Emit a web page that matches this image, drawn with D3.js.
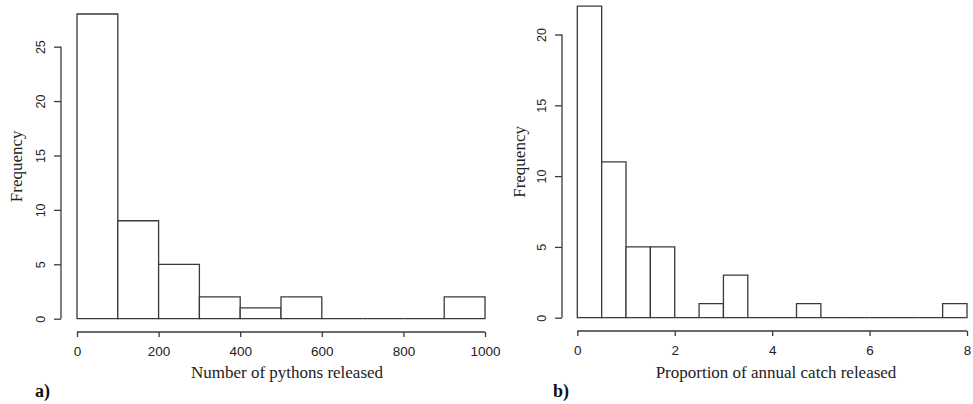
<!DOCTYPE html>
<html>
<head>
<meta charset="utf-8">
<script src="https://cdn.jsdelivr.net/npm/d3@7"></script>
<style>
  body { margin: 0; background: #fff; }
  svg { display: block; }
</style>
</head>
<body>
<svg id="chart" width="973" height="404"></svg>
<script>
// panel a) - number of pythons released
const pythonBreaks = [0, 100, 200, 300, 400, 500, 600, 700, 800, 900, 1000];
const pythonCounts = [28, 9, 5, 2, 1, 2, 0, 0, 0, 2];
const pythonXTicks = [0, 200, 400, 600, 800, 1000];
const pythonYTicks = [0, 5, 10, 15, 20, 25];

// panel b) - proportion of annual catch released
const catchBreaks = [0, 0.5, 1, 1.5, 2, 2.5, 3, 3.5, 4, 4.5, 5, 5.5, 6, 6.5, 7, 7.5, 8];
const catchCounts = [22, 11, 5, 5, 0, 1, 3, 0, 0, 1, 0, 0, 0, 0, 0, 1];
const catchXTicks = [0, 2, 4, 6, 8];
const catchYTicks = [0, 5, 10, 15, 20];

const ink = '#3a3a3a';
const svg = d3.select('#chart');

svg.append('rect').attr('width', 973).attr('height', 404).attr('fill', '#fff');

function drawHist(opts) {
  const x = d3.scaleLinear().domain([opts.breaks[0], opts.breaks[opts.breaks.length - 1]]).range(opts.xRange);
  const y = d3.scaleLinear().domain([0, opts.yMax]).range(opts.yRange);
  const g = svg.append('g');

  // bars as closed paths so empty bins still leave a line on the baseline
  const bins = opts.counts.map((c, i) => ({x0: opts.breaks[i], x1: opts.breaks[i + 1], n: c}));
  g.selectAll('path.bar').data(bins).enter().append('path')
    .attr('class', 'bar')
    .attr('d', d => `M${x(d.x0)},${y(0)}V${y(d.n)}H${x(d.x1)}V${y(0)}Z`)
    .attr('fill', '#fff')
    .attr('stroke', ink)
    .attr('stroke-width', 1.3);

  // x axis, R style: line from first to last tick
  const xAxis = g.append('g')
    .attr('transform', `translate(0,${opts.xAxisY})`)
    .call(d3.axisBottom(x).tickValues(opts.xTicks).tickFormat(d3.format('d'))
      .tickSize(5).tickSizeOuter(0).tickPadding(9));
  xAxis.select('.domain').remove();
  xAxis.append('line')
    .attr('x1', x(opts.xTicks[0])).attr('x2', x(opts.xTicks[opts.xTicks.length - 1]))
    .attr('stroke', ink).attr('stroke-width', 1.3);
  xAxis.selectAll('.tick line').attr('stroke', ink).attr('stroke-width', 1.3);
  xAxis.selectAll('.tick text')
    .attr('fill', '#222')
    .style('font-family', '"Liberation Sans", Arial, sans-serif')
    .style('font-size', '13.5px');

  // y axis with labels parallel to the axis
  const yAxis = g.append('g')
    .attr('transform', `translate(${opts.yAxisX},0)`)
    .call(d3.axisLeft(y).tickValues(opts.yTicks).tickSize(7).tickSizeOuter(0));
  yAxis.select('.domain').remove();
  yAxis.append('line')
    .attr('y1', y(opts.yTicks[0])).attr('y2', y(opts.yTicks[opts.yTicks.length - 1]))
    .attr('stroke', ink).attr('stroke-width', 1.3);
  yAxis.selectAll('.tick line').attr('stroke', ink).attr('stroke-width', 1.3);
  yAxis.selectAll('.tick text')
    .attr('x', 0).attr('y', -16).attr('dy', null)
    .attr('transform', 'rotate(-90)')
    .attr('text-anchor', 'middle')
    .attr('fill', '#222')
    .style('font-family', '"Liberation Sans", Arial, sans-serif')
    .style('font-size', '12.5px');

  // axis titles
  const serif = '"Liberation Serif", "Times New Roman", serif';
  g.append('text')
    .attr('x', opts.titleX).attr('y', 378)
    .attr('text-anchor', 'middle')
    .attr('fill', '#222')
    .style('font-family', serif).style('font-size', '17px')
    .text(opts.xTitle);

  const midY = (y(0) + y(opts.yMax)) / 2;
  g.append('text')
    .attr('transform', `translate(${opts.yTitleX},${midY}) rotate(-90)`)
    .attr('text-anchor', 'middle')
    .attr('fill', '#222')
    .style('font-family', serif).style('font-size', '17px')
    .text('Frequency');

  g.append('text')
    .attr('x', opts.tagX).attr('y', 397)
    .attr('fill', '#111')
    .style('font-family', serif).style('font-size', '18px').style('font-weight', 'bold')
    .text(opts.tag);
}

drawHist({
  breaks: pythonBreaks, counts: pythonCounts,
  xTicks: pythonXTicks, yTicks: pythonYTicks,
  xRange: [77, 485], yMax: 28, yRange: [318.7, 14],
  xAxisY: 332, yAxisX: 61,
  xTitle: 'Number of pythons released', titleX: 287,
  yTitleX: 22, tag: 'a)', tagX: 35
});

drawHist({
  breaks: catchBreaks, counts: catchCounts,
  xTicks: catchXTicks, yTicks: catchYTicks,
  xRange: [577.3, 967], yMax: 22, yRange: [317.7, 6.2],
  xAxisY: 331, yAxisX: 562,
  xTitle: 'Proportion of annual catch released', titleX: 776,
  yTitleX: 525, tag: 'b)', tagX: 553
});
</script>
</body>
</html>
